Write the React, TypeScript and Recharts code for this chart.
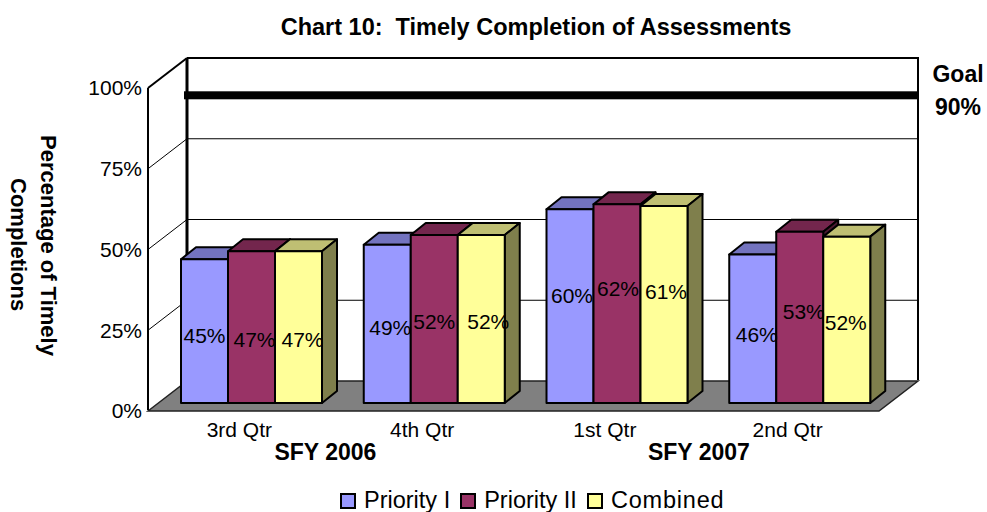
import React from "react";
import {
  BarChart,
  Bar,
  XAxis,
  YAxis,
  CartesianGrid,
  ReferenceLine,
  LabelList,
  Legend,
} from "recharts";

const quarters = ["3rd Qtr", "4th Qtr", "1st Qtr", "2nd Qtr"];
const priorityOne = [44.5, 49, 60, 46];
const priorityTwo = [47, 52, 61.5, 53];
const combined = [47, 52, 61, 51.5];
const fiscalYears = ["SFY 2006", "", "SFY 2007", ""];
const goalValue = 90;
const yTicks = [0, 25, 50, 75, 100];

const data = quarters.map((name, i) => ({
  name,
  fiscalYear: fiscalYears[i],
  priorityOne: priorityOne[i],
  priorityTwo: priorityTwo[i],
  combined: combined[i],
}));

const FONT = "'Liberation Sans', Arial, sans-serif";

// the fake 3d: wall depth and bar depth, in px
const WALL_DX = 39;
const WALL_DY = 30;
const BAR_DX = 15;
const BAR_DY = 12;
const BAR_SHIFT_X = 12;
const BAR_SHIFT_Y = -8;
const PLOT_TOP = 88;
const PLOT_BOTTOM = 410;

// the original labels were dragged by hand, so they sit off centre
const nudgeOneX = [0, 3, 2, 4];
const nudgeOneY = [4, 4, -11, 6];
const nudgeTwoX = [3, 0, 1, 4];
const nudgeTwoY = [12, 2, -15, -6];
const nudgeThreeX = [4, 7, 2, -1];
const nudgeThreeY = [12, 2, -13, 3];
const yearShift = [86, 0, 94, 0];

const Bar3D = (props: any) => {
  const { x, y, width, height, fill, top, side } = props;
  const l = x + BAR_SHIFT_X;
  const t = y + BAR_SHIFT_Y;
  const r = l + width;
  const b = t + height;
  const line = { stroke: "#000", strokeWidth: 2, strokeLinejoin: "round" as const };
  return (
    <g>
      <polygon
        points={`${l},${t} ${l + BAR_DX},${t - BAR_DY} ${r + BAR_DX},${t - BAR_DY} ${r},${t}`}
        fill={top}
        {...line}
      />
      <polygon
        points={`${r},${t} ${r + BAR_DX},${t - BAR_DY} ${r + BAR_DX},${b - BAR_DY} ${r},${b}`}
        fill={side}
        {...line}
      />
      <rect x={l} y={t} width={width} height={height} fill={fill} {...line} />
    </g>
  );
};

const GridRow = (props: any) => {
  const { x1, x2, y1 } = props;
  const bx1 = x1 + WALL_DX;
  const bx2 = x2 + WALL_DX;
  const by = y1 - WALL_DY;
  if (Math.abs(y1 - PLOT_BOTTOM) < 5) {
    return (
      <polygon
        points={`${x1},${y1} ${bx1},${by} ${bx2},${by} ${x2},${y1}`}
        fill="#808080"
        stroke="#222"
        strokeWidth={1.5}
      />
    );
  }
  if (Math.abs(y1 - PLOT_TOP) < 5) {
    return (
      <g fill="none" stroke="#000">
        <path d={`M${x1},${y1} L${bx1},${by}`} strokeWidth={2} />
        <path d={`M${bx1},${by} H${bx2} V${PLOT_BOTTOM - WALL_DY}`} strokeWidth={2} />
        <path d={`M${bx1},${by} V${PLOT_BOTTOM - WALL_DY}`} strokeWidth={3} />
        <path d={`M${x1},${y1} V${PLOT_BOTTOM}`} strokeWidth={2} />
      </g>
    );
  }
  return (
    <path
      d={`M${x1},${y1} L${bx1},${by} H${bx2}`}
      fill="none"
      stroke="#000"
      strokeWidth={1}
    />
  );
};

const GoalLine = (props: any) => {
  const { x1, x2, y1 } = props;
  return (
    <rect
      x={x1 + WALL_DX - 3}
      y={y1 - WALL_DY + 1}
      width={x2 - x1 + 3}
      height={8}
      fill="#000"
    />
  );
};

const makeLabel = (nudgeX: number[], nudgeY: number[]) => (props: any) => {
  const { x, y, width, height, value, index } = props;
  return (
    <text
      x={x + BAR_SHIFT_X + width / 2 + nudgeX[index]}
      y={y + BAR_SHIFT_Y + height / 2 + nudgeY[index]}
      textAnchor="middle"
      dominantBaseline="central"
      fontSize={21}
      fontFamily={FONT}
      fill="#000"
    >
      {Math.round(value)}%
    </text>
  );
};

const QuarterTick = (props: any) => {
  const { x, y, payload, index } = props;
  return (
    <g fontFamily={FONT} fill="#000" textAnchor="middle">
      <text x={x} y={y + 18} fontSize={21}>
        {payload.value}
      </text>
      {fiscalYears[index] ? (
        <text x={x + yearShift[index]} y={y + 41} fontSize={23} fontWeight="bold">
          {fiscalYears[index]}
        </text>
      ) : null}
    </g>
  );
};

const LegendRow = ({ payload }: any) => (
  <div style={{ display: "flex", alignItems: "center", fontFamily: FONT, fontSize: 23.5 }}>
    {(payload || []).map((p: any) => (
      <div
        key={p.value}
        style={{
          display: "flex",
          alignItems: "center",
          marginRight: 10,
          letterSpacing: p.value === "Combined" ? 0.8 : 0,
        }}
      >
        <span
          style={{
            width: 12,
            height: 12,
            background: p.color,
            border: "2px solid #000",
            marginRight: 8,
            display: "inline-block",
          }}
        />
        {p.value}
      </div>
    ))}
  </div>
);

const App = () => {
  return (
    <div style={{ position: "absolute", left: 0, top: 0, width: 987, height: 512, background: "#fff" }}>
      <BarChart
        width={987}
        height={512}
        data={data}
        margin={{ top: 88, right: 108, bottom: 47, left: 88 }}
        barSize={47}
        barGap={0}
      >
        <CartesianGrid vertical={false} horizontal={(p: any) => <GridRow key={p.y1} {...p} />} />
        <XAxis
          dataKey="name"
          height={30}
          axisLine={false}
          tickLine={false}
          tick={<QuarterTick />}
          interval={0}
        />
        <YAxis
          width={60}
          domain={[0, 100]}
          ticks={yTicks}
          axisLine={false}
          tickLine={false}
          tickMargin={0}
          tickFormatter={(v: number) => `${v}%`}
          tick={{ fontSize: 21, fontFamily: FONT, fill: "#000" }}
        />
        <ReferenceLine y={goalValue} shape={<GoalLine />} />
        <Bar
          dataKey="priorityOne"
          name="Priority I"
          fill="#9999FF"
          isAnimationActive={false}
          shape={<Bar3D top="#7373BF" side="#4C4C7F" />}
        >
          <LabelList dataKey="priorityOne" content={makeLabel(nudgeOneX, nudgeOneY)} />
        </Bar>
        <Bar
          dataKey="priorityTwo"
          name="Priority II"
          fill="#993366"
          isAnimationActive={false}
          shape={<Bar3D top="#73264D" side="#4C1933" />}
        >
          <LabelList dataKey="priorityTwo" content={makeLabel(nudgeTwoX, nudgeTwoY)} />
        </Bar>
        <Bar
          dataKey="combined"
          name="Combined"
          fill="#FFFF99"
          isAnimationActive={false}
          shape={<Bar3D top="#BFBF73" side="#7F7F4C" />}
        >
          <LabelList dataKey="combined" content={makeLabel(nudgeThreeX, nudgeThreeY)} />
        </Bar>
        <Legend
          content={<LegendRow />}
          itemSorter={null}
          wrapperStyle={{ position: "absolute", left: 340, top: 487, width: 420, height: 24, bottom: "auto" }}
        />
      </BarChart>
      <div
        style={{
          position: "absolute",
          left: 236,
          top: 14,
          width: 600,
          textAlign: "center",
          whiteSpace: "pre",
          fontFamily: FONT,
          fontSize: 23.5,
          fontWeight: "bold",
        }}
      >
        {"Chart 10:  Timely Completion of Assessments"}
      </div>
      <div
        style={{
          position: "absolute",
          left: 3,
          top: 115,
          height: 260,
          writingMode: "vertical-rl",
          textAlign: "center",
          lineHeight: "30px",
          fontFamily: FONT,
          fontSize: 22,
          fontWeight: "bold",
        }}
      >
        Percentage of Timely
        <br />
        Completions
      </div>
      <div
        style={{
          position: "absolute",
          left: 927,
          top: 58,
          width: 62,
          textAlign: "center",
          lineHeight: "33px",
          fontFamily: FONT,
          fontSize: 23,
          fontWeight: "bold",
        }}
      >
        Goal
        <br />
        90%
      </div>
    </div>
  );
};

export default App;
